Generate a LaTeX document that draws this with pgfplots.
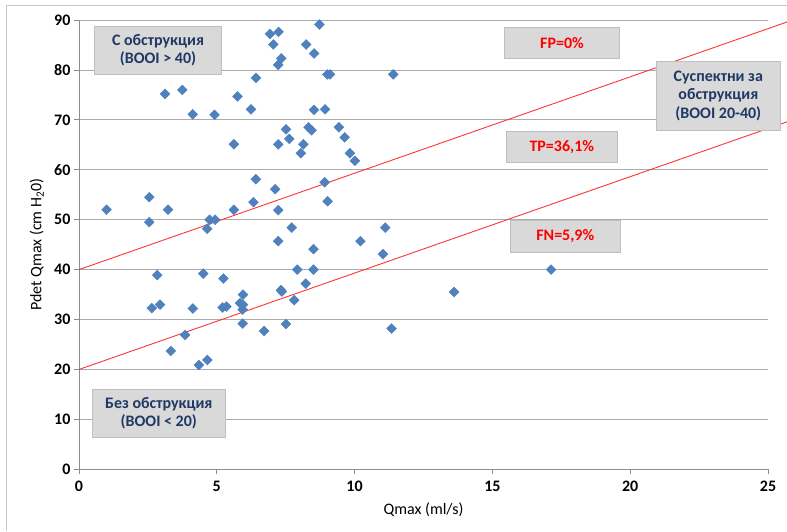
\documentclass[border=0pt]{standalone}
\usepackage{fontspec}
\setmainfont{Carlito}
\usepackage{pgfplots}
\usepackage{pgfplotstable}
\pgfplotsset{compat=1.18}
\definecolor{ptblue}{HTML}{4F81BD}
\definecolor{navy}{HTML}{1F3864}
\definecolor{boxfill}{HTML}{D9D9D9}
\definecolor{boxline}{HTML}{BFBFBF}
\definecolor{redline}{HTML}{FF3333}
\pgfplotstableread{
q p
1.00 52.0
2.55 54.5
2.55 49.5
3.23 52.0
3.12 75.2
3.75 76.0
4.13 71.1
4.92 71.0
4.65 48.2
4.74 50.0
4.94 50.0
5.62 65.1
5.75 74.7
6.24 72.1
6.42 78.4
6.42 58.1
5.62 52.0
6.33 53.5
6.93 87.2
7.24 87.6
7.05 85.1
7.34 82.3
7.23 81.0
8.72 89.1
8.24 85.1
8.53 83.3
9.01 79.1
9.11 79.1
11.40 79.1
8.53 72.0
8.93 72.1
7.51 68.1
7.63 66.2
7.23 65.1
8.33 68.5
8.44 67.9
8.14 65.1
8.05 63.3
9.43 68.5
9.64 66.5
9.83 63.3
10.01 61.8
7.12 56.1
7.23 51.9
8.91 57.5
9.02 53.7
7.72 48.4
7.23 45.7
8.51 44.1
7.92 40.0
8.51 40.0
10.21 45.7
11.11 48.4
11.03 43.1
2.84 38.9
4.51 39.2
5.24 38.2
2.64 32.3
2.94 33.0
4.13 32.2
5.21 32.4
5.35 32.6
5.84 33.3
5.95 35.0
5.95 33.0
5.94 32.0
5.94 29.2
6.72 27.7
7.33 35.9
7.36 35.6
7.51 29.1
7.81 33.9
8.23 37.2
11.34 28.2
3.85 26.9
3.33 23.7
4.35 20.9
4.66 21.9
13.61 35.5
17.13 40.0
}\datatable
\begin{document}
\begin{tikzpicture}
\path[use as bounding box] (0pt,0pt) rectangle (787pt,531pt);
\draw[black!22, line width=1pt] (6.5pt,0pt) -- (6.5pt,525.3pt) -- (787pt,525.3pt);
\begin{axis}[
  at={(79pt,61.7pt)}, anchor=south west,
  scale only axis, width=689pt, height=449.3pt,
  xmin=0, xmax=25, ymin=0, ymax=90,
  xtick={0,5,...,25}, ytick={0,10,...,90},
  axis x line*=bottom, axis y line*=left,
  axis line style={black!45, line width=0.8pt, -},
  ymajorgrids, major grid style={black!33, line width=0.8pt},
  tick style={black!45, line width=0.8pt}, major tick length=5pt, tick align=outside,
  ticklabel style={font=\fontsize{16}{18}\selectfont\bfseries},
  xticklabel style={yshift=-3pt},
  /pgf/number format/assume math mode=true,
  xlabel={Qmax (ml/s)}, ylabel={Pdet Qmax (cm H\textsubscript{2}0)},
  every axis x label/.style={at={(axis description cs:0.5,0)}, yshift=-40.7pt, anchor=center, font=\fontsize{16}{18}\selectfont},
  every axis y label/.style={at={(axis description cs:0,0.5)}, xshift=-42.3pt, rotate=90, anchor=center, font=\fontsize{16}{18}\selectfont},
  clip=false,
]
\addplot[only marks, mark=square*, mark size=3.5pt, mark options={rotate=45, fill=ptblue, draw=ptblue}] table[x=q, y=p] {\datatable};
\addplot[redline, line width=0.9pt, no marks] coordinates {(0,40) (26,90.2)};
\addplot[redline, line width=0.9pt, no marks] coordinates {(0,20) (26,70.2)};
\end{axis}
\tikzset{bx/.style={fill=boxfill, draw=boxline, line width=0.8pt},
         tx/.style={font=\fontsize{16}{18.3}\selectfont\bfseries, align=center, inner sep=0pt}}
\draw[bx] (94.3pt,457pt) rectangle (221.7pt,504.3pt);
\node[tx, text=navy] at (158pt,480.7pt) {С обструкция\\(BOOI > 40)};
\draw[bx] (504.3pt,472.3pt) rectangle (619.7pt,503.3pt);
\node[tx, text=red] at (562pt,487.8pt) {FP=0\%};
\draw[bx] (656.7pt,401pt) rectangle (780pt,469.3pt);
\node[tx, text=navy] at (718.3pt,435.2pt) {Суспектни за\\обструкция\\(BOOI 20-40)};
\draw[bx] (506.7pt,368.7pt) rectangle (617pt,400pt);
\node[tx, text=red] at (561.8pt,384.3pt) {TP=36,1\%};
\draw[bx] (510pt,278.7pt) rectangle (620.7pt,310.3pt);
\node[tx, text=red] at (565.3pt,294.5pt) {FN=5,9\%};
\draw[bx] (92.3pt,93.7pt) rectangle (225.3pt,141.7pt);
\node[tx, text=navy] at (158.8pt,117.7pt) {Без обструкция\\(BOOI < 20)};
\end{tikzpicture}
\end{document}
